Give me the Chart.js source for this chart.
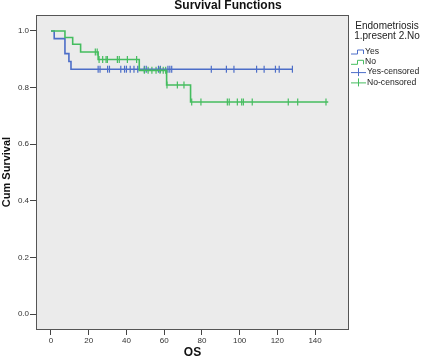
<!DOCTYPE html>
<html>
<head>
<meta charset="utf-8">
<script src="https://cdn.jsdelivr.net/npm/chart.js@4/dist/chart.umd.min.js"></script>
<style>
  html, body { margin: 0; padding: 0; background: #fff; }
  #wrap { width: 421px; height: 362px; }
</style>
</head>
<body>
<div id="wrap"><canvas id="myChart" width="421" height="362"></canvas></div>
<script>
// Kaplan-Meier steps
var yesTime = [0, 1.7, 7.4, 9.5, 10.6, 128];
var yesSurv = [1, 0.973, 0.920, 0.892, 0.865, 0.865];
var noTime = [0, 7.4, 11.5, 15.7, 25, 46.8, 61.3, 74, 147];
var noSurv = [1, 0.977, 0.953, 0.926, 0.899, 0.861, 0.809, 0.749, 0.749];

// censored times
var yesCensored = [25, 26, 30, 31, 37, 39, 40, 42, 44, 46, 49.5, 50.5, 57, 58, 62, 63, 64, 85, 93, 97, 109, 113, 119, 121, 128];
var noCensored = [23.5, 24.5, 25.5, 27.4, 29.2, 29.9, 35.2, 36.2, 40.5, 45.4,
                  49.5, 51.5, 53.5, 55.7, 57.8, 59.5, 60.8, 61.5, 67, 70.5,
                  74.6, 79.5, 93.5, 94.5, 98.8, 101.1, 102, 106.7, 125.8, 130.8, 145.8];

var xTicks = [0, 20, 40, 60, 80, 100, 120, 140];
var yTicks = [0, 0.2, 0.4, 0.6, 0.8, 1.0];

var blue = '#4d6ec8';
var green = '#45bd5f';
var font = 'Arial, "Liberation Sans", sans-serif';

function pts(t, s) {
    return t.map(function(v, i) { return {x: v, y: s[i]}; });
}
function survAt(t, s, x) {
    var v = s[0];
    for (var i = 0; i < t.length; i++) { if (t[i] <= x) v = s[i]; }
    return v;
}
function censorPts(c, t, s) {
    return c.map(function(x) { return {x: x, y: survAt(t, s, x)}; });
}

var plotBg = {
    id: 'plotBg',
    beforeDraw: function(chart) {
        var a = chart.chartArea, ctx = chart.ctx;
        ctx.save();
        ctx.fillStyle = '#ebebeb';
        ctx.fillRect(a.left, a.top, a.right - a.left, a.bottom - a.top);
        ctx.restore();
    },
    afterDraw: function(chart) {
        var a = chart.chartArea, ctx = chart.ctx;
        ctx.save();
        ctx.strokeStyle = '#555';
        ctx.lineWidth = 1;
        ctx.strokeRect(a.left + 0.5, a.top + 0.5, a.right - a.left - 1, a.bottom - a.top);
        // title
        ctx.fillStyle = '#111';
        ctx.font = 'bold 12px ' + font;
        ctx.textAlign = 'center';
        ctx.textBaseline = 'alphabetic';
        ctx.fillText('Survival Functions', 228, 9);
        // legend
        ctx.font = '10px ' + font;
        ctx.fillStyle = '#222';
        ctx.fillText('Endometriosis', 387, 29);
        ctx.fillText('1.present 2.No', 387, 39);
        ctx.textAlign = 'left';
        ctx.textBaseline = 'middle';
        ctx.font = '8.6px ' + font;
        var items = [
            {label: 'Yes', color: blue, step: true},
            {label: 'No', color: green, step: true},
            {label: 'Yes-censored', color: blue, step: false},
            {label: 'No-censored', color: green, step: false}
        ];
        items.forEach(function(it, i) {
            var y = 51.5 + i * 10.3;
            ctx.strokeStyle = it.color;
            ctx.lineWidth = 1;
            ctx.beginPath();
            if (it.step) {
                ctx.moveTo(351, y + 2.5); ctx.lineTo(357.5, y + 2.5); ctx.lineTo(357.5, y - 1.5);
                ctx.lineTo(363.5, y - 1.5); ctx.lineTo(363.5, y + 2.5);
            } else {
                ctx.moveTo(351, y + 0.5); ctx.lineTo(366, y + 0.5);
                ctx.moveTo(358.5, y - 4); ctx.lineTo(358.5, y + 4);
            }
            ctx.stroke();
            ctx.fillStyle = '#222';
            ctx.fillText(it.label, it.step ? 365 : 367, y);
        });
        ctx.restore();
    }
};

var ctx = document.getElementById('myChart').getContext('2d');
var myChart = new Chart(ctx, {
    type: 'scatter',
    data: {
        datasets: [{
            label: 'No',
            data: pts(noTime, noSurv),
            showLine: true,
            stepped: true,
            borderColor: green,
            borderWidth: 1.6,
            pointRadius: 0
        }, {
            label: 'Yes',
            data: pts(yesTime, yesSurv),
            showLine: true,
            stepped: true,
            borderColor: blue,
            borderWidth: 1.6,
            pointRadius: 0
        }, {
            label: 'No-censored',
            data: censorPts(noCensored, noTime, noSurv),
            pointStyle: 'line',
            rotation: 90,
            pointRadius: 3.5,
            borderColor: green,
            borderWidth: 1.2
        }, {
            label: 'Yes-censored',
            data: censorPts(yesCensored, yesTime, yesSurv),
            pointStyle: 'line',
            rotation: 90,
            pointRadius: 3.5,
            borderColor: blue,
            borderWidth: 1.2
        }]
    },
    options: {
        responsive: false,
        animation: false,
        layout: { padding: { top: 15, right: 72, left: 0, bottom: 0 } },
        scales: {
            x: {
                type: 'linear',
                min: -7.95,
                max: 158,
                afterBuildTicks: function(s) { s.ticks = xTicks.map(function(v) { return {value: v}; }); },
                afterFit: function(s) { s.height = 33; },
                grid: { drawOnChartArea: false, drawTicks: true, tickLength: 6, color: '#444' },
                border: { display: false },
                ticks: { color: '#333', font: { size: 8, family: font }, padding: 1, maxRotation: 0 },
                title: { display: true, text: 'OS', color: '#111', font: { size: 12, weight: 'bold', family: font }, padding: { top: 0, bottom: 2 } }
            },
            y: {
                min: -0.053,
                max: 1.0565,
                afterBuildTicks: function(s) { s.ticks = yTicks.map(function(v) { return {value: v}; }); },
                afterFit: function(s) { s.width = 36; },
                grid: { drawOnChartArea: false, drawTicks: true, tickLength: 6, color: '#444' },
                border: { display: false },
                ticks: { color: '#333', font: { size: 8, family: font }, padding: 1,
                         callback: function(v) { return v.toFixed(1); } },
                title: { display: true, text: 'Cum Survival', color: '#111', font: { size: 11, weight: 'bold', family: font }, padding: { top: 0, bottom: 0 } }
            }
        },
        plugins: {
            legend: { display: false },
            tooltip: { enabled: false }
        }
    },
    plugins: [plotBg]
});
</script>
</body>
</html>
